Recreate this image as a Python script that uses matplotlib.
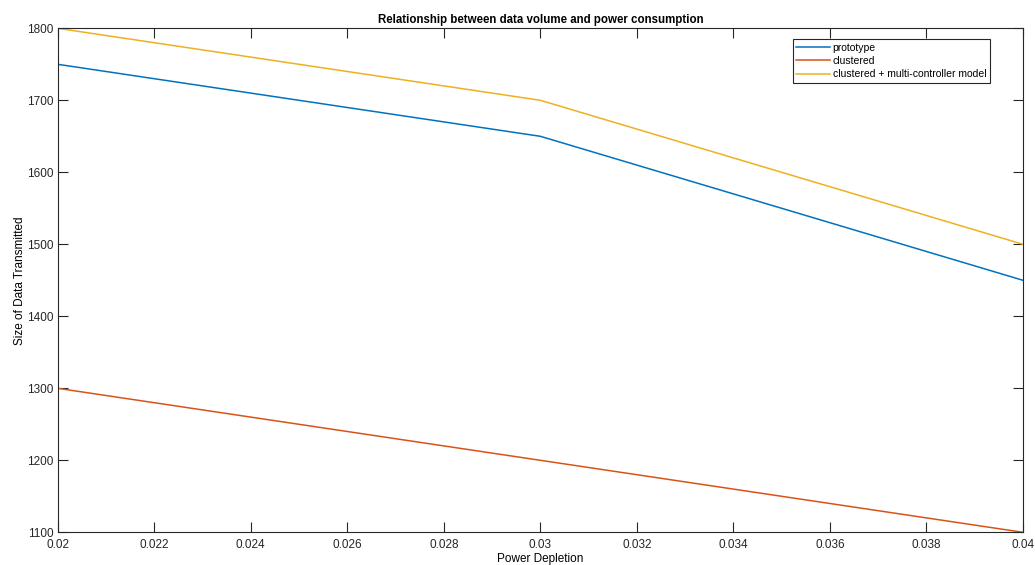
import matplotlib.pyplot as plt

plt.rcParams['font.family'] = ['Liberation Sans', 'DejaVu Sans']

# data
power = [0.02, 0.03, 0.04]
prototype = [1750, 1650, 1450]
clustered = [1300, 1200, 1100]
multi_ctrl = [1800, 1700, 1500]

xticks = [0.02, 0.022, 0.024, 0.026, 0.028, 0.03, 0.032, 0.034, 0.036, 0.038, 0.04]
xtick_labels = ['0.02', '0.022', '0.024', '0.026', '0.028', '0.03', '0.032', '0.034', '0.036', '0.038', '0.04']
yticks = [1100, 1200, 1300, 1400, 1500, 1600, 1700, 1800]

fig = plt.figure(figsize=(10.35, 5.65), dpi=100)
ax = fig.add_axes([57.7 / 1035, 1 - 532.3 / 565, (1023 - 57.7) / 1035, (532.3 - 28.3) / 565])

ax.plot(power, prototype, color=(0, 0.447, 0.741), lw=1.1, label='prototype')
ax.plot(power, clustered, color=(0.85, 0.325, 0.098), lw=1.1, label='clustered')
ax.plot(power, multi_ctrl, color=(0.929, 0.694, 0.125), lw=1.1, label='clustered + multi-controller model')

ax.set_xlim(0.02, 0.04)
ax.set_ylim(1100, 1800)
ax.set_xticks(xticks)
ax.set_xticklabels(xtick_labels)
ax.set_yticks(yticks)
ax.tick_params(direction='in', length=7, width=0.8, top=True, right=True,
               labelsize=8.5, colors='#262626', pad=3)
ax.tick_params(axis='x', pad=4.5)
for s in ax.spines.values():
    s.set_color('#262626')
    s.set_linewidth(0.8)

ax.set_title('Relationship between data volume and power consumption',
             fontsize=8.3, fontweight='bold', pad=4)
ax.set_xlabel('Power Depletion', fontsize=8.5, labelpad=1.5)
ax.set_ylabel('Size of Data Transmitted', fontsize=8.5, labelpad=1)

leg = ax.legend(loc='upper right', bbox_to_anchor=(990 / 1035, 1 - 39.3 / 565),
                bbox_transform=fig.transFigure, fontsize=7.5, fancybox=False,
                framealpha=1, edgecolor='#262626', handlelength=3.2,
                borderpad=0.35, labelspacing=0.3, handletextpad=0.3, borderaxespad=0)
leg.get_frame().set_linewidth(0.8)

fig.savefig('out.png', dpi=100)
